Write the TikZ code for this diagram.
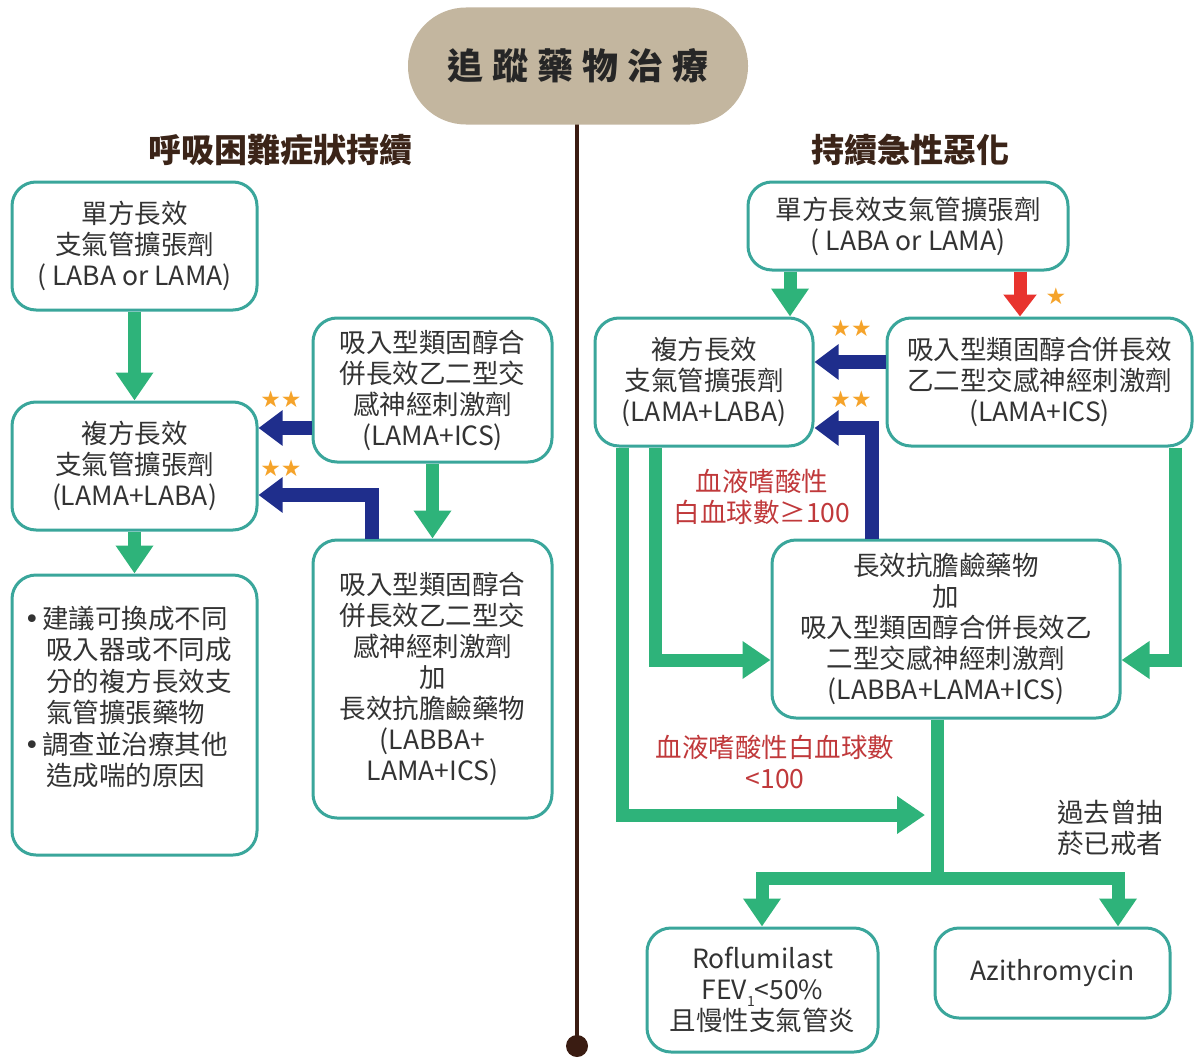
\documentclass[tikz,border=0pt]{standalone}
\usepackage{fontspec}
\setmainfont{Noto Sans CJK TC}
\newfontfamily\symf{DejaVu Sans}
\usetikzlibrary{arrows.meta}
\definecolor{boxc}{HTML}{3AA69B}
\definecolor{grn}{HTML}{2EB37A}
\definecolor{blu}{HTML}{1F2E8C}
\definecolor{redA}{HTML}{E8332E}
\definecolor{redT}{HTML}{C0393B}
\definecolor{star}{HTML}{F5A32A}
\definecolor{beige}{HTML}{C3B69F}
\definecolor{brn}{HTML}{3A1C12}
\definecolor{txt}{HTML}{333333}
\definecolor{hdr}{HTML}{3B2418}
\tikzset{
  box/.style={draw=boxc, line width=3pt, rounded corners=24pt, fill=white,
    align=center, inner sep=0pt, text=txt, font=\fontsize{26.5}{31}\selectfont},
  garrow/.style={draw=grn, line width=13pt, line join=miter,
    -{Triangle[width=36pt,length=28pt]}},
  gline/.style={draw=grn, line width=13pt, line join=miter},
  barrow/.style={draw=blu, line width=14pt, line join=miter,
    -{Triangle[width=34pt,length=24pt]}},
  rarrow/.style={draw=redA, line width=13pt,
    -{Triangle[width=32pt,length=22pt]}},
  stars/.style={text=star, font=\symf\fontsize{23}{23}\selectfont, inner sep=0pt},
  redlbl/.style={text=redT, align=center, font=\fontsize{26.5}{31}\selectfont},
  hdrlbl/.style={text=hdr, font=\bfseries\fontsize{33}{38}\selectfont}
}
\begin{document}
\begin{tikzpicture}[x=1pt,y=-1pt]
\useasboundingbox (0,0) rectangle (1196,1057);

% spine
\draw[brn, line width=4pt] (577,120) -- (577,1046);
\fill[brn] (577,1046) circle (11pt);
\node[fill=beige, rounded corners=58pt, minimum width=340pt, minimum height=117pt,
  text=black!85, font=\bfseries\fontsize{36}{40}\selectfont] (title) at (578,66)
  {追\hspace{9pt}蹤\hspace{9pt}藥\hspace{9pt}物\hspace{9pt}治\hspace{9pt}療};

% headers
\node[hdrlbl] (hl) at (280,150) {呼吸困難症狀持續};
\node[hdrlbl] (hr) at (910,150) {持續急性惡化};

% left boxes
\node[box, minimum width=245pt, minimum height=128pt] (L1) at (134.5,246)
  {單方長效\\支氣管擴張劑\\( LABA or LAMA)};
\node[box, minimum width=245pt, minimum height=128pt] (L2) at (134.5,466)
  {複方長效\\支氣管擴張劑\\(LAMA+LABA)};
\node[box, minimum width=245pt, minimum height=280pt] (L3) at (134.5,715) {};
\node[align=left, anchor=north west, inner sep=0pt, text=txt,
  font=\fontsize{26.5}{31.4}\selectfont] (L3t) at (24,606)
  {\makebox[18pt][l]{\symf •}建議可換成不同\\
   \hspace{22pt}吸入器或不同成\\
   \hspace{22pt}分的複方長效支\\
   \hspace{22pt}氣管擴張藥物\\
   \makebox[18pt][l]{\symf •}調查並治療其他\\
   \hspace{22pt}造成喘的原因};
\node[box, minimum width=239pt, minimum height=144pt] (L4) at (432.5,390)
  {吸入型類固醇合\\併長效乙二型交\\感神經刺激劑\\(LAMA+ICS)};
\node[box, minimum width=239pt, minimum height=278pt] (L5) at (432.5,679)
  {吸入型類固醇合\\併長效乙二型交\\感神經刺激劑\\加\\長效抗膽鹼藥物\\(LABBA+\\LAMA+ICS)};

% right boxes
\node[box, minimum width=320pt, minimum height=88pt] (R1) at (908,226)
  {單方長效支氣管擴張劑\\( LABA or LAMA)};
\node[box, minimum width=218pt, minimum height=128pt] (R2) at (704,382)
  {複方長效\\支氣管擴張劑\\(LAMA+LABA)};
\node[box, minimum width=305pt, minimum height=128pt] (R3) at (1039.5,382)
  {吸入型類固醇合併長效\\乙二型交感神經刺激劑\\(LAMA+ICS)};
\node[box, minimum width=348pt, minimum height=178pt] (R4) at (946,629)
  {長效抗膽鹼藥物\\加\\吸入型類固醇合併長效乙\\二型交感神經刺激劑\\(LABBA+LAMA+ICS)};
\node[box, minimum width=231pt, minimum height=124pt] (R5) at (762.5,990)
  {Roflumilast\\FEV\raisebox{-7pt}{\fontsize{14}{14}\selectfont 1}<50\%\\且慢性支氣管炎};
\node[box, minimum width=235pt, minimum height=90pt] (R6) at (1052.5,973)
  {Azithromycin};

% left arrows
\draw[garrow] (L1) -- (L2);
\draw[garrow] (L2) -- (L3);
\draw[garrow] (L4) -- (L5);
\draw[barrow] (L4.west |- 0,428) -- (L2.east |- 0,428);
\draw[barrow] (L5.north -| 372,0) |- (L2.east |- 0,495);
\node[stars] (s1) at (281,399) {★★};
\node[stars] (s2) at (281,468) {★★};

% right arrows
\draw[garrow] (R1.south -| 790,0) -- (R2.north -| 790,0);
\draw[rarrow] (R1.south -| 1020,0) -- (R3.north -| 1020,0);
\node[stars] (s3) at (1056,296) {★};
\draw[barrow] (R3.west |- 0,362) -- (R2.east |- 0,362);
\draw[barrow] (R4.north -| 872,0) |- (R2.east |- 0,428);
\node[stars] (s4) at (851,328) {★★};
\node[stars] (s5) at (851,399) {★★};

\draw[garrow] (R2.south -| 655,0) |- (R4.west |- 0,660);
\coordinate (J) at (925,815);
\draw[garrow] (R2.south -| 622,0) |- (J);
\draw[garrow] (R3.south -| 1175,0) |- (R4.east |- 0,660);
\coordinate (T) at (937,878);
\draw[gline] (R4.south -| 937,0) -- (T);
\draw[garrow] (T) -| (R5.north -| 762,0);
\draw[garrow] (T) -| (R6.north -| 1118,0);

% labels
\node[redlbl] (c1) at (762,497) {血液嗜酸性\\白血球數≥100};
\node[redlbl] (c2) at (775,762) {血液嗜酸性白血球數\\<100};
\node[align=center, text=txt, font=\fontsize{26.5}{31}\selectfont] (smk) at (1110,828)
  {過去曾抽\\菸已戒者};
\end{tikzpicture}
\end{document}
